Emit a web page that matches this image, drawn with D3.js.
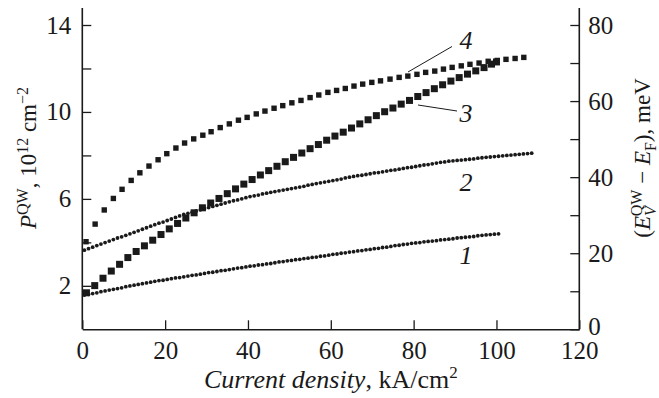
<!DOCTYPE html>
<html>
<head>
<meta charset="utf-8">
<script src="https://cdn.jsdelivr.net/npm/d3@7"></script>
<style>
  html, body { margin: 0; padding: 0; background: #fff; }
  svg { display: block; }
  text { font-family: "Liberation Serif", "Times New Roman", serif; fill: #1a1a1a; }
</style>
</head>
<body>
<svg id="chart" width="659" height="398"></svg>
<script>
// ---------------- data ----------------
const xTicks = [0, 20, 40, 60, 80, 100, 120];
const leftTicks = [2, 4, 6, 8, 10, 12, 14];
const leftLabels = [2, 6, 10, 14];
const rightTicks = [0, 10, 20, 30, 40, 50, 60, 70, 80];
const rightLabels = [0, 20, 40, 60, 80];

// curve 1: (E_V^QW - E_F), meV, current density 0.5 .. 100.5 kA/cm2 step 1
const curve1J = d3.range(0.5, 101, 1);
const curve1E = [9.0,9.2,9.4,9.6,9.9,10.1,10.3,10.5,10.7,10.9,11.2,11.4,11.6,11.8,12.0,12.2,12.4,
  12.6,12.8,12.9,13.1,13.3,13.5,13.6,13.8,14.0,14.2,14.3,14.5,14.7,14.9,15.0,15.2,15.4,15.5,15.7,15.9,16.1,16.2,16.4,16.6,
  16.7,16.9,17.0,17.2,17.3,17.5,17.7,17.8,18.0,18.1,18.3,18.4,18.6,18.7,18.9,19.0,19.2,19.3,19.5,19.7,19.8,20.0,20.1,20.3,
  20.4,20.6,20.7,20.9,21.0,21.2,21.3,21.5,21.6,21.8,22.0,22.1,22.3,22.4,22.6,22.7,
  22.8,23.0,23.1,23.2,23.3,23.5,23.6,23.7,23.8,24.0,24.1,24.2,24.3,24.4,24.6,24.7,24.8,24.9,25.0,25.1];

// curve 2: (E_V^QW - E_F), meV, current density 0.5 .. 108.5 kA/cm2 step 1
const curve2J = d3.range(0.5, 109, 1);
const curve2E = [20.8,21.2,21.6,22.0,22.4,22.8,23.2,23.6,24.0,24.3,24.7,25.1,25.5,25.9,26.3,26.7,27.1,27.5,27.9,28.2,28.6,29.0,29.4,29.8,30.2,
  30.5,30.8,31.1,31.4,31.7,32.0,32.3,32.6,32.9,33.2,33.5,33.8,34.0,34.3,34.6,34.9,
  35.1,35.3,35.6,35.8,36.0,36.2,36.4,36.6,36.8,37.0,37.2,37.4,37.6,37.9,38.1,38.3,38.5,38.7,38.9,39.1,39.3,39.5,39.8,40.0,
  40.2,40.4,40.5,40.7,40.9,41.1,41.2,41.4,41.6,41.8,41.9,42.1,42.3,42.5,42.6,42.8,43.0,43.2,43.3,43.5,43.7,43.9,44.0,44.2,
  44.3,44.4,44.5,44.6,44.7,44.8,45.0,45.1,45.2,45.3,45.4,45.5,45.6,45.7,45.8,45.9,46.0,46.1,46.2,46.3];

// curve 3: P^QW, 10^12 cm^-2
const curve3J = [1,3,5,7,9,11,13,15,17,19,21,23,25,27,29,31,33,35,37,39,41,43,45,47,49,51,53,55,57,59,61,63,65,67,69,71,73,75,77,79,81,83,85,87,89,91,93,95,97,98.8,100];
const curve3P = [1.68,2.01,2.35,2.68,2.99,3.30,3.58,3.84,4.10,4.36,4.62,4.87,5.12,5.36,5.59,5.81,6.02,6.24,6.46,6.68,6.89,7.10,7.30,7.50,7.71,7.91,8.11,8.31,8.50,8.70,8.89,9.07,9.26,9.45,9.64,9.83,10.01,10.18,10.36,10.53,10.71,10.89,11.07,11.25,11.42,11.58,11.74,11.89,12.04,12.20,12.30];

// curve 4: P^QW, 10^12 cm^-2
const curve4J = [0.9,3.1,5.3,7.5,9.6,11.8,13.9,16.1,18.3,20.4,22.6,24.7,26.9,29.1,31.1,33.3,35.5,37.7,39.8,42.0,44.1,46.3,48.4,50.6,52.8,55.0,57.1,59.3,61.4,63.5,65.6,67.7,69.9,72.0,74.3,76.5,78.6,80.8,82.9,85.1,87.2,89.3,91.5,93.6,95.8,98.0,100.2,102.3,104.5,106.6];
const curve4P = [4.03,4.84,5.49,6.02,6.44,6.85,7.20,7.51,7.80,8.08,8.34,8.57,8.76,8.93,9.09,9.28,9.45,9.62,9.75,9.91,10.04,10.17,10.29,10.42,10.53,10.66,10.78,10.90,10.99,11.08,11.19,11.28,11.36,11.43,11.51,11.59,11.65,11.73,11.82,11.88,11.97,12.05,12.12,12.19,12.25,12.33,12.37,12.42,12.46,12.51];

// ---------------- chart ----------------
const ink = "#1a1a1a";
const FS = 25;
const TS = 23;
const svg = d3.select("#chart");
const x = d3.scaleLinear().domain([0, 120]).range([82.3, 579.3]);
const yL = d3.scaleLinear().domain([0, 14]).range([329.3, 25]);
const yR = d3.scaleLinear().domain([0, 80]).range([329.3, 25]);

function styleAxis(g) {
  g.selectAll("path.domain").attr("stroke", ink).attr("stroke-width", 1.6);
  g.selectAll(".tick line").attr("stroke", ink).attr("stroke-width", 1.3);
  g.selectAll(".tick text").attr("font-size", FS).attr("fill", ink);
}

svg.append("g").attr("transform", `translate(0,${yL(0)})`)
  .call(d3.axisBottom(x).tickValues(xTicks).tickSizeInner(-9).tickSizeOuter(0).tickPadding(12))
  .call(styleAxis);

svg.append("g").attr("transform", `translate(${x(0)},0)`)
  .call(d3.axisLeft(yL).tickValues(leftTicks).tickSizeInner(-9).tickSizeOuter(0).tickPadding(11)
    .tickFormat(d => leftLabels.includes(d) ? d : ""))
  .call(styleAxis)
  .call(g => g.select("path.domain").attr("d", `M0,${yL(0)}V${yL(14) - 17}`));

svg.append("g").attr("transform", `translate(${x(120)},0)`)
  .call(d3.axisRight(yR).tickValues(rightTicks).tickSizeInner(-9).tickSizeOuter(0).tickPadding(9)
    .tickFormat(d => rightLabels.includes(d) ? d : ""))
  .call(styleAxis)
  .call(g => g.select("path.domain").attr("d", `M0,${yR(0)}V${yR(80) - 17}`))
  .call(g => g.selectAll(".tick text").filter(d => d === 0).attr("dy", "0.2em"));

// curves 1, 2 (small dots, right axis)
function dots(J, V, scale, r) {
  svg.append("g").selectAll("circle").data(J.map((j, i) => [j, V[i]])).join("circle")
    .attr("cx", d => x(d[0])).attr("cy", d => scale(d[1])).attr("r", r).attr("fill", ink);
}
dots(curve1J, curve1E, yR, 1.9);
dots(curve2J, curve2E, yR, 1.9);

// curves 3, 4 (squares, left axis)
function squares(J, V, scale, s) {
  svg.append("g").selectAll("rect").data(J.map((j, i) => [j, V[i]])).join("rect")
    .attr("x", d => x(d[0]) - s / 2).attr("y", d => scale(d[1]) - s / 2)
    .attr("width", s).attr("height", s).attr("fill", ink);
}
squares(curve3J, curve3P, yL, 7);
squares(curve4J, curve4P, yL, 5.4);

// curve labels and leaders
const lab = svg.append("g").attr("font-style", "italic").attr("font-size", 26).attr("text-anchor", "middle");
lab.append("text").attr("x", 466).attr("y", 49).text("4");
lab.append("text").attr("x", 466).attr("y", 122).text("3");
lab.append("text").attr("x", 466).attr("y", 191).text("2");
lab.append("text").attr("x", 466).attr("y", 264).text("1");
svg.append("line").attr("x1", 452).attr("y1", 46.5).attr("x2", 408).attr("y2", 72).attr("stroke", ink).attr("stroke-width", 1);
svg.append("line").attr("x1", 457).attr("y1", 111).attr("x2", 418).attr("y2", 105).attr("stroke", ink).attr("stroke-width", 1);

// axis titles
const xt = svg.append("text").attr("x", 330.8).attr("y", 388).attr("text-anchor", "middle").attr("font-size", 26);
xt.append("tspan").attr("font-style", "italic").text("Current density");
xt.append("tspan").text(", kA/cm");
xt.append("tspan").attr("font-size", 17).attr("dy", -10).text("2");

const lt = svg.append("text").attr("transform", "translate(36,158) rotate(-90)").attr("text-anchor", "middle").attr("font-size", TS);
lt.append("tspan").attr("font-style", "italic").text("P");
lt.append("tspan").attr("font-size", 16).attr("dy", -8).text("QW");
lt.append("tspan").attr("dy", 8).text(", 10");
lt.append("tspan").attr("font-size", 16).attr("dy", -8).text("12");
lt.append("tspan").attr("dy", 8).text(" cm");
lt.append("tspan").attr("font-size", 16).attr("dy", -8).text("\u22122");

const rt = svg.append("text").attr("transform", "translate(650,158) rotate(-90)").attr("text-anchor", "middle").attr("font-size", TS);
rt.append("tspan").text("(");
rt.append("tspan").attr("font-style", "italic").text("E");
rt.append("tspan").attr("font-style", "italic").attr("font-size", 16).attr("dy", 6).text("V");
rt.append("tspan").attr("font-size", 16).attr("dx", -10).attr("dy", -14).text("QW");
rt.append("tspan").attr("dy", 8).text(" \u2212 ");
rt.append("tspan").attr("font-style", "italic").text("E");
rt.append("tspan").attr("font-size", 16).attr("dy", 6).text("F");
rt.append("tspan").attr("dy", -6).text("), meV");
</script>
</body>
</html>
